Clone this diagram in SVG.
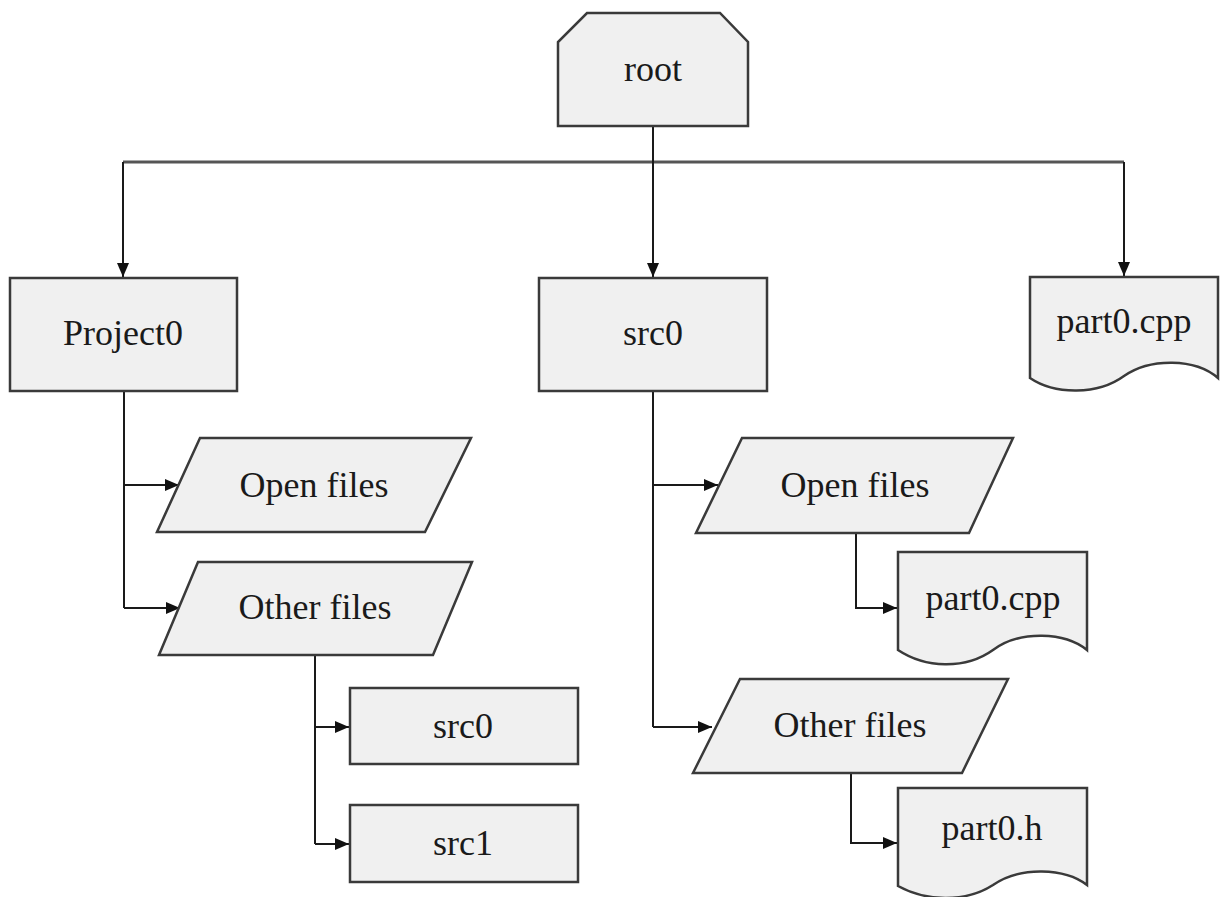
<svg xmlns="http://www.w3.org/2000/svg" width="1220" height="897" viewBox="0 0 1220 897">
  <style>
    .shape { fill: #f0f0f0; stroke: #3a3a3a; stroke-width: 2.5; }
    .label { font-family: "Liberation Serif", "Times New Roman", serif; font-size: 36px; fill: #1a1a1a; text-anchor: middle; }
    .wire { fill: none; stroke: #1a1a1a; stroke-width: 2; }
    .bus { fill: none; stroke: #555; stroke-width: 3; }
  </style>
  <defs>
    <marker id="arrow" viewBox="0 0 14 12" refX="14" refY="6" markerWidth="14" markerHeight="12" markerUnits="userSpaceOnUse" orient="auto">
      <path d="M0,0 L14,6 L0,12 Z" fill="#111"/>
    </marker>
  </defs>
  <rect width="1220" height="897" fill="#ffffff"/>

  <!-- connectors -->
  <g id="connectors">
    <path class="bus" d="M123,162 H1124"/>
    <path class="wire" d="M653,126 V162"/>
    <path class="wire" d="M123,162 V277" marker-end="url(#arrow)"/>
    <path class="wire" d="M653,162 V277" marker-end="url(#arrow)"/>
    <path class="wire" d="M1124,162 V276" marker-end="url(#arrow)"/>
    <!-- Project0 branch -->
    <path class="wire" d="M124,391 V608"/>
    <path class="wire" d="M124,485 H179" marker-end="url(#arrow)"/>
    <path class="wire" d="M124,608 H180" marker-end="url(#arrow)"/>
    <path class="wire" d="M315,655 V844"/>
    <path class="wire" d="M315,727 H349" marker-end="url(#arrow)"/>
    <path class="wire" d="M315,844 H349" marker-end="url(#arrow)"/>
    <!-- src0 branch -->
    <path class="wire" d="M653,391 V727"/>
    <path class="wire" d="M653,485 H718" marker-end="url(#arrow)"/>
    <path class="wire" d="M653,727 H712" marker-end="url(#arrow)"/>
    <path class="wire" d="M856,533 V608 H897" marker-end="url(#arrow)"/>
    <path class="wire" d="M851,773 V843 H897" marker-end="url(#arrow)"/>
  </g>

  <g id="root">
    <path class="shape" d="M587,13 H720 L748,42 V126 H558 V42 Z"/>
    <text class="label" x="653" y="81">root</text>
  </g>

  <g id="project0">
    <rect class="shape" x="10" y="278" width="227" height="113"/>
    <text class="label" x="123" y="345">Project0</text>
  </g>

  <g id="src0-top">
    <rect class="shape" x="539" y="278" width="228" height="113"/>
    <text class="label" x="653" y="345">src0</text>
  </g>

  <g id="part0-cpp-top">
    <path class="shape" d="M1030,277 H1218 V378 C1195,358 1150,358 1124,376 C1098,395 1055,395 1030,378 Z"/>
    <text class="label" x="1124" y="333">part0.cpp</text>
  </g>

  <g id="open-files-left">
    <path class="shape" d="M200,438 H471 L425,532 H157 Z"/>
    <text class="label" x="314" y="497">Open files</text>
  </g>

  <g id="other-files-left">
    <path class="shape" d="M198,562 H472 L433,655 H159 Z"/>
    <text class="label" x="315" y="619">Other files</text>
  </g>

  <g id="src0-leaf">
    <rect class="shape" x="350" y="688" width="228" height="76"/>
    <text class="label" x="463" y="738">src0</text>
  </g>

  <g id="src1-leaf">
    <rect class="shape" x="350" y="805" width="228" height="77"/>
    <text class="label" x="463" y="855">src1</text>
  </g>

  <g id="open-files-mid">
    <path class="shape" d="M742,438 H1013 L969,533 H696 Z"/>
    <text class="label" x="855" y="497">Open files</text>
  </g>

  <g id="part0-cpp-mid">
    <path class="shape" d="M898,552 H1087 V650 C1065,632 1020,630 993,650 C965,670 925,668 898,650 Z"/>
    <text class="label" x="993" y="610">part0.cpp</text>
  </g>

  <g id="other-files-mid">
    <path class="shape" d="M740,679 H1008 L962,773 H693 Z"/>
    <text class="label" x="850" y="737">Other files</text>
  </g>

  <g id="part0-h">
    <path class="shape" d="M898,788 H1087 V885 C1065,868 1020,866 993,885 C965,903 925,901 898,886 Z"/>
    <text class="label" x="992" y="840">part0.h</text>
  </g>
</svg>
